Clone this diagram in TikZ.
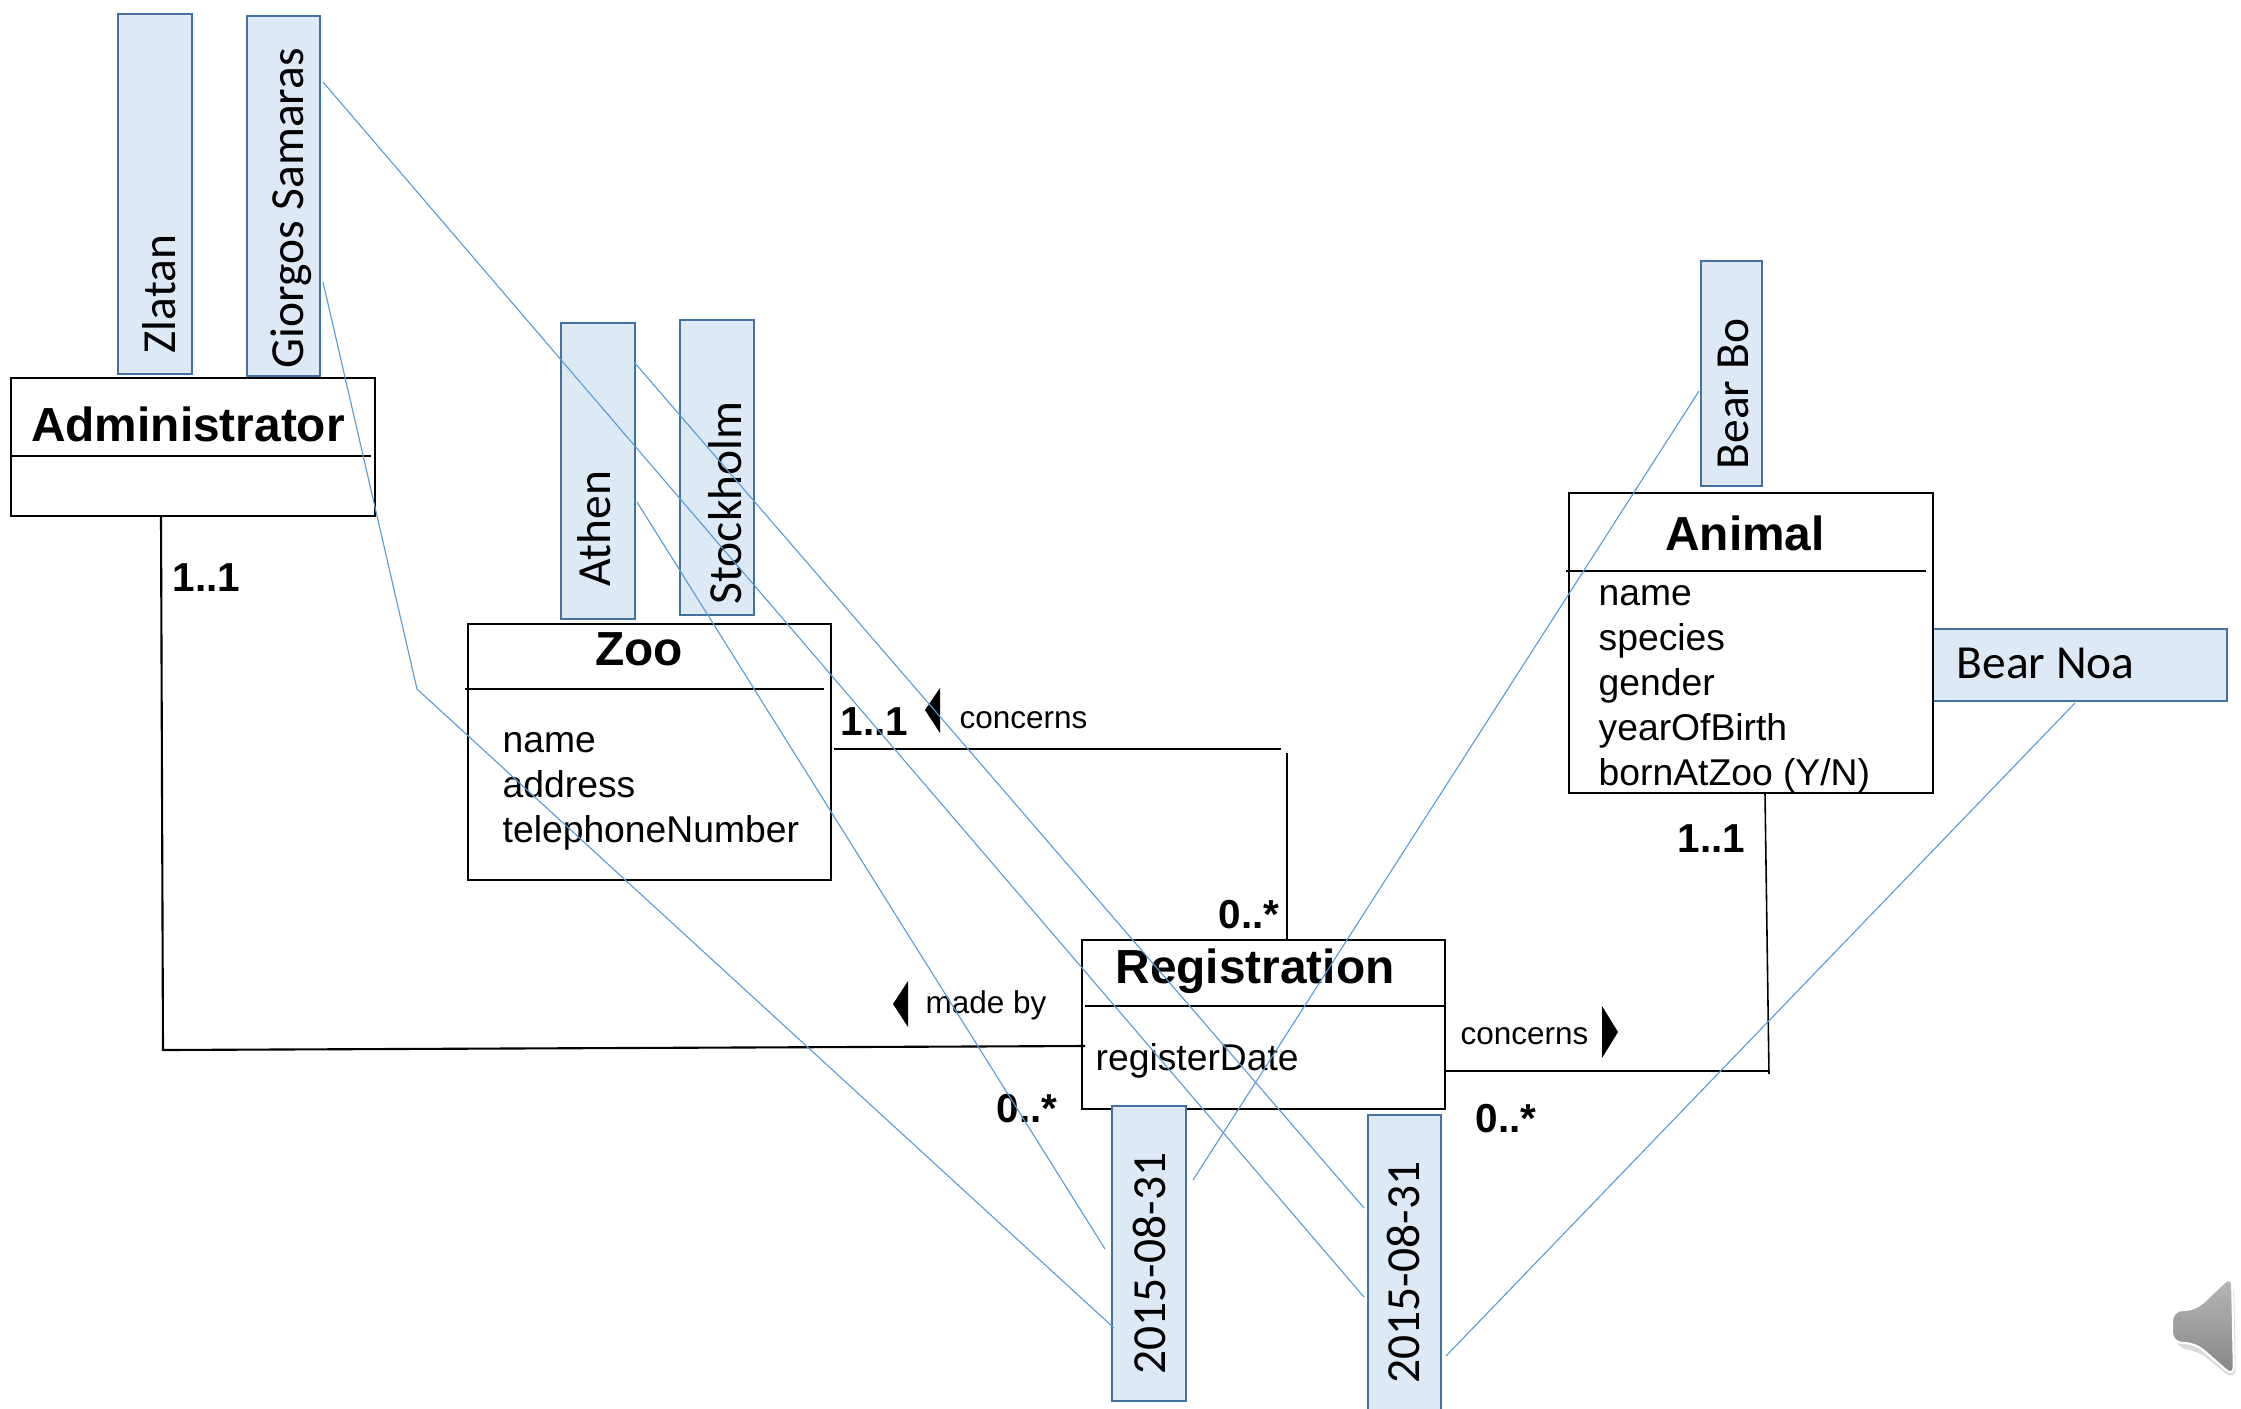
\documentclass[tikz,border=0pt]{standalone}
\usepackage{fontspec}
\setmainfont{Liberation Sans}
\newfontfamily\instfont{Carlito}
\usepackage{tikz}
\usetikzlibrary{fit}
\definecolor{instfill}{RGB}{222,233,246}
\definecolor{instedge}{RGB}{68,114,160}
\definecolor{instlink}{RGB}{91,155,213}
\tikzset{>=latex}
\tikzset{
    classbox/.style={draw=black, line width=.7pt, inner sep=0pt},
    instbox/.style={draw=instedge, fill=instfill, line width=.8pt, inner sep=0pt},
    classname/.style={anchor=base, inner sep=0pt, font=\fontsize{13.6}{15}\bfseries},
    attr/.style={anchor=base west, inner sep=0pt, font=\fontsize{10.6}{12}\selectfont},
    mult/.style={anchor=base west, inner sep=0pt, font=\fontsize{11.5}{13}\bfseries},
    rolename/.style={anchor=base west, inner sep=0pt, font=\fontsize{8.95}{10}\selectfont},
    instname/.style={anchor=base west, inner sep=0pt, font=\fontsize{13.5}{15}\instfont},
    assoc/.style={draw=black, line width=.6pt},
    instlink/.style={draw=instlink, line width=.32pt}
}

\begin{document}
\begin{tikzpicture}[x=0.01cm, y=-0.01cm]
    \clip (0,0) rectangle (2241,1408);

    \node[instbox, fit={(118,14) (192,374)}] (zlatan) {};
    \node[instbox, fit={(247,16) (320,376)}] (giorgos) {};
    \node[instbox, fit={(561,323) (635,619)}] (athen) {};
    \node[instbox, fit={(680,320) (754,615)}] (stockholm) {};
    \node[instbox, fit={(1701,261) (1762,486)}] (bearBo) {};
    \node[instbox, fit={(1933,629) (2227,701)}] (bearNoa) {};

    \node[classbox, fit={(11,378) (375,516)}] (admin) {};
    \node[classbox, fit={(468,624) (831,880)}] (zoo) {};
    \node[classbox, fit={(1082,940) (1445,1109)}] (registration) {};
    \node[classbox, fit={(1569,493) (1933,793)}] (animal) {};

    \node[instbox, fit={(1112,1106) (1186,1401)}] (dateOne) {};
    \node[instbox, fit={(1368,1115) (1441,1430)}] (dateTwo) {};

    \node[instname, rotate=90] (zlatanName) at (175,354) {Zlatan};
    \node[instname, rotate=90] (giorgosName) at (303,369) {Giorgos Samaras};
    \node[instname, rotate=90] (athenName) at (610,587) {Athen};
    \node[instname, rotate=90] (stockholmName) at (741,605) {Stockholm};
    \node[instname, rotate=90] (bearBoName) at (1748,470) {Bear Bo};
    \node[instname] (bearNoaName) at (1956,678) {Bear Noa};
    \node[instname, rotate=90] (dateOneName) at (1165,1375) {2015-08-31};
    \node[instname, rotate=90] (dateTwoName) at (1419,1384) {2015-08-31};

    \node[classname] (adminName) at (188,441) {Administrator};
    \node[classname] (zooName) at (639,665) {Zoo};
    \node[classname] (registrationName) at (1255,983) {Registration};
    \node[classname] (animalName) at (1745,550) {Animal};

    \draw[assoc] (11,456) -- (371,456);
    \draw[assoc] (465,689) -- (824,689);
    \draw[assoc] (1085,1006) -- (1445,1006);
    \draw[assoc] (1566,571) -- (1926,571);

    \foreach \attrname [count=\i] in {name, address, telephoneNumber}
        \node[attr] (zooAttr\i) at (502,707+45*\i) {\attrname};
    \foreach \attrname [count=\i] in {name, species, gender, yearOfBirth, bornAtZoo (Y/N)}
        \node[attr] (animalAttr\i) at (1598,560+45*\i) {\attrname};
    \node[attr] (registrationAttr) at (1095,1070) {registerDate};

    % associations
    \coordinate (adminOut) at (161,516);
    \coordinate (adminBend) at (163,1050);
    \coordinate (registrationWest) at (1085,1046);
    \coordinate (zooOut) at (834,749);
    \coordinate (zooEnd) at (1281,749);
    \coordinate (registrationTop) at (1287,753);
    \coordinate (registrationNorth) at (1287,940);
    \coordinate (registrationEast) at (1445,1071);
    \coordinate (animalBend) at (1769,1071);
    \coordinate (animalOut) at (1765,793);
    \coordinate (animalEnd) at (1769,1074);
    \draw[assoc] (adminOut) -- (adminBend) -- (registrationWest);
    \draw[assoc, line width=.35pt] (zooOut) -- (zooEnd);
    \draw[assoc] (registrationTop) -- (registrationNorth);
    \draw[assoc] (registrationEast) -- (animalBend);
    \draw[assoc, line width=.45pt] (animalOut) -- (animalEnd);

    \node[mult] (adminMult) at (172,591) {1..1};
    \node[mult] (zooMult) at (840,735) {1..1};
    \node[mult] (animalMult) at (1677,852) {1..1};
    \node[mult] (regTopMult) at (1218,928) {0..*};
    \node[mult] (regLeftMult) at (996,1122) {0..*};
    \node[mult] (regRightMult) at (1475,1132) {0..*};

    \node[rolename] (zooRole) at (959,728) {concerns};
    \node[rolename] (adminRole) at (925,1013) {made by};
    \node[rolename] (animalRole) at (1460,1044) {concerns};
    \fill (925,710) -- (940,688) -- (940,733) -- cycle;
    \fill (893,1004) -- (908,981) -- (908,1027) -- cycle;
    \fill (1618,1032) -- (1602,1006) -- (1602,1058) -- cycle;

    % links between the instances
    \coordinate (giorgosUp) at (323,82);
    \coordinate (giorgosLow) at (323,282);
    \coordinate (giorgosKnee) at (417,689);
    \coordinate (athenUp) at (634,362);
    \coordinate (athenLow) at (637,502);
    \coordinate (bearBoSide) at (1699,391);
    \coordinate (bearNoaFoot) at (2075,703);
    \coordinate (dateOneA) at (1105,1249);
    \coordinate (dateOneB) at (1114,1328);
    \coordinate (dateOneC) at (1193,1180);
    \coordinate (dateTwoA) at (1364,1208);
    \coordinate (dateTwoB) at (1364,1297);
    \coordinate (dateTwoC) at (1446,1356);
    \draw[instlink] (giorgosUp) -- (dateTwoB);
    \draw[instlink] (giorgosLow) -- (giorgosKnee) -- (dateOneB);
    \draw[instlink] (athenUp) -- (dateTwoA);
    \draw[instlink] (athenLow) -- (dateOneA);
    \draw[instlink] (bearBoSide) -- (dateOneC);
    \draw[instlink] (bearNoaFoot) -- (dateTwoC);

    % speaker
    \fill[black!14, rounded corners=4] (2174,1316) -- (2196,1316) -- (2234,1280) -- (2236,1382) -- (2196,1349) -- (2174,1349) -- cycle;
    \draw[white, line width=.6pt, top color=black!28, bottom color=black!48, rounded corners=3] (2172,1310) -- (2195,1310) -- (2232,1275) -- (2234,1377) -- (2195,1343) -- (2172,1343) -- cycle;
\end{tikzpicture}
\end{document}
